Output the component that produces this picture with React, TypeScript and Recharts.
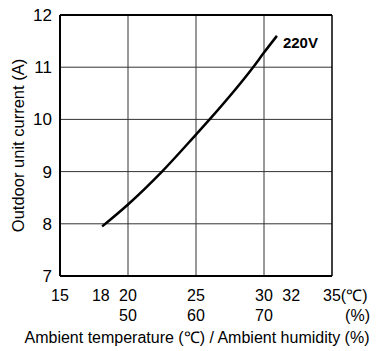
import { LineChart, Line, XAxis, YAxis, CartesianGrid, ReferenceLine, LabelList } from 'recharts';

// curve readings: ambient temperature (°C) vs outdoor unit current (A)
const temps = [18.1, 20, 22.5, 25, 26, 29.2, 30, 30.95];
const current = [7.95, 8.37, 9.0, 9.71, 10.0, 11.0, 11.28, 11.6];

const xTicks = [15, 18, 20, 25, 30, 32, 35];
const humidity: Record<number, string> = { 20: '50', 25: '60', 30: '70' };
const yTicks = [7, 8, 9, 10, 11, 12];
const gridX = [20, 25, 30];
const seriesName = '220V';

const data = temps.map((t, i) => ({ t, a: current[i] }));

const font = "'Liberation Sans', Arial, sans-serif";

function XTick({ x, y, payload }: any) {
  const v = payload.value;
  if (v === 35) {
    return (
      <g>
        <text x={x - 9} y={y + 17} fontSize={16} fontFamily={font} fill="#000">35(℃)</text>
        <text x={x + 38} y={y + 37} fontSize={16} fontFamily={font} fill="#000" textAnchor="end">(%)</text>
      </g>
    );
  }
  return (
    <g>
      <text x={x} y={y + 17} fontSize={16} fontFamily={font} fill="#000" textAnchor="middle">{v}</text>
      {humidity[v] && (
        <text x={x} y={y + 37} fontSize={16} fontFamily={font} fill="#000" textAnchor="middle">{humidity[v]}</text>
      )}
    </g>
  );
}

function SeriesLabel({ x, y, index }: any) {
  if (index !== data.length - 1) return null;
  return (
    <text x={x + 6} y={y + 12} fontSize={15} fontWeight="bold" fontFamily={font} fill="#000">{seriesName}</text>
  );
}

export default function App() {
  return (
    <div style={{ position: 'absolute', left: 0, top: 0, background: '#fff' }}>
      <LineChart width={386} height={351} data={data} margin={{ top: 15, right: 54, bottom: 45, left: 0 }}>
        <CartesianGrid vertical={false} stroke="#333" strokeWidth={1} />
        {gridX.map(v => (
          <ReferenceLine key={v} x={v} stroke="#333" strokeWidth={1} />
        ))}
        <ReferenceLine x={15} stroke="#000" strokeWidth={2} />
        <ReferenceLine x={35} stroke="#000" strokeWidth={1.5} />
        <ReferenceLine y={7} stroke="#000" strokeWidth={2} />
        <ReferenceLine y={12} stroke="#000" strokeWidth={2} />
        <XAxis
          dataKey="t"
          type="number"
          domain={[15, 35]}
          ticks={xTicks}
          interval={0}
          axisLine={false}
          tickLine={false}
          tick={<XTick />}
          height={30}
          label={{
            content: ({ viewBox }: any) => (
              <text
                x={viewBox.x + viewBox.width / 2 + 1}
                y={viewBox.y + 67}
                textAnchor="middle"
                fontSize={16}
                fontFamily={font}
                fill="#000"
              >
                Ambient temperature (℃) / Ambient humidity (%)
              </text>
            ),
          }}
        />
        <YAxis
          type="number"
          domain={[7, 12]}
          ticks={yTicks}
          interval={0}
          axisLine={false}
          tickLine={false}
          width={60}
          tick={{ fontSize: 17, fontFamily: font, fill: '#000' }}
          label={{
            content: ({ viewBox }: any) => (
              <text
                x={viewBox.x + 18}
                y={viewBox.y + viewBox.height / 2}
                transform={`rotate(-90, ${viewBox.x + 18}, ${viewBox.y + viewBox.height / 2})`}
                textAnchor="middle"
                dominantBaseline="central"
                fontSize={16.5}
                fontFamily={font}
                fill="#000"
              >
                Outdoor unit current (A)
              </text>
            ),
          }}
        />
        <Line type="monotone" dataKey="a" stroke="#000" strokeWidth={2.5} dot={false} isAnimationActive={false}>
          <LabelList dataKey="a" content={<SeriesLabel />} />
        </Line>
      </LineChart>
    </div>
  );
}
